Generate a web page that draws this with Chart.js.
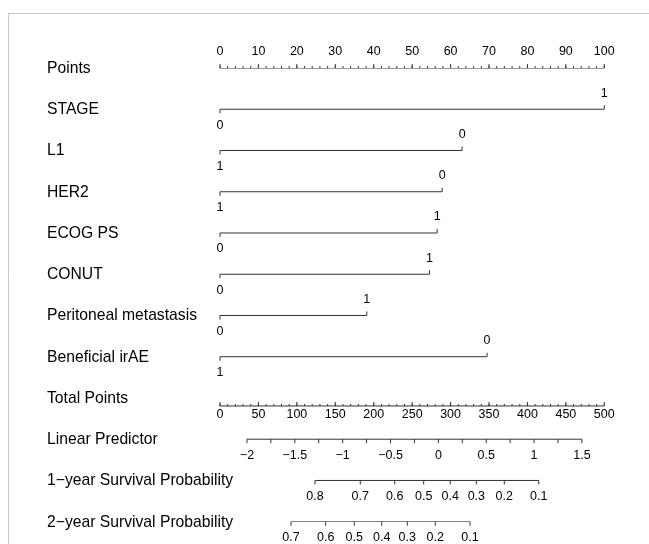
<!DOCTYPE html>
<html>
<head>
<meta charset="utf-8">
<script src="https://cdn.jsdelivr.net/npm/chart.js@4.4.1/dist/chart.umd.min.js"></script>
<style>
  html, body { margin: 0; padding: 0; background: #fff; }
  #wrap { position: relative; width: 649px; height: 544px; }
</style>
</head>
<body>
<div id="wrap"><canvas id="nomo" width="649" height="544"></canvas></div>
<script>
// Predictors and their levels (level at 0 points, level at the far end)
const categories = ['STAGE', 'L1', 'HER2', 'ECOG PS', 'CONUT', 'Peritoneal metastasis', 'Beneficial irAE'];
const lowLevels  = ['0', '1', '1', '0', '0', '0', '1'];
const highLevels = ['1', '0', '0', '1', '1', '1', '0'];
const highPoints = [100, 63.0, 57.8, 56.5, 54.5, 38.2, 69.5];

// Points scale
const pointTicks = [0, 10, 20, 30, 40, 50, 60, 70, 80, 90, 100];
const pointMinorStep = 2;

// Total points scale
const totalTicks = [0, 50, 100, 150, 200, 250, 300, 350, 400, 450, 500];
const totalMinorStep = 10;

// Linear predictor: total points = lpIntercept + lpSlope * lp
const lpIntercept = 284.1;
const lpSlope = 124.5;
const lpTicks = [-2, -1.75, -1.5, -1.25, -1, -0.75, -0.5, -0.25, 0, 0.25, 0.5, 0.75, 1, 1.25, 1.5];
const lpLabels = [-2, -1.5, -1, -0.5, 0, 0.5, 1, 1.5];

// Survival probabilities and where they fall on the total points scale
const surv1Labels = ['0.8', '0.7', '0.6', '0.5', '0.4', '0.3', '0.2', '0.1'];
const surv1Total  = [123.6, 182.5, 227.3, 265.0, 299.6, 333.5, 369.9, 414.7];
const surv2Labels = ['0.7', '0.6', '0.5', '0.4', '0.3', '0.2', '0.1'];
const surv2Total  = [92.4, 137.5, 174.7, 210.4, 243.7, 280.1, 325.3];

const rowNames = ['Points'].concat(categories, ['Total Points', 'Linear Predictor',
  '1\u2212year Survival Probability', '2\u2212year Survival Probability']);
const ROW_TOTAL = 8, ROW_LP = 9, ROW_S1 = 10, ROW_S2 = 11;
const ROW_GAP = 41.25;

const toPts = t => t / 5;                       // total points -> points axis
const lpToPts = lp => toPts(lpIntercept + lpSlope * lp);
const fmtMinus = v => String(v).replace('-', '\u2212');

const LINE = '#333333';
const seg = (x0, x1, row) => ({
  data: [{ x: x0, y: row }, { x: x1, y: row }],
  borderColor: LINE, borderWidth: 1, pointRadius: 0, fill: false, tension: 0
});

// Total points axis line sits a little below its row label
const TOTAL_SHIFT = 8;

const datasets = [];
datasets.push(seg(0, 100, 0));
categories.forEach((c, i) => datasets.push(seg(0, highPoints[i], i + 1)));
datasets.push(seg(toPts(totalTicks[0]), toPts(totalTicks[totalTicks.length - 1]), ROW_TOTAL + TOTAL_SHIFT / ROW_GAP));
datasets.push(seg(lpToPts(lpTicks[0]), lpToPts(lpTicks[lpTicks.length - 1]), ROW_LP));
datasets.push(seg(toPts(surv1Total[0]), toPts(surv1Total[surv1Total.length - 1]), ROW_S1));
datasets.push(seg(toPts(surv2Total[0]), toPts(surv2Total[surv2Total.length - 1]), ROW_S2));

const TICK_FONT = '12.5px "Liberation Sans", Arial, sans-serif';
const NAME_FONT = '15.7px "Liberation Sans", Arial, sans-serif';

const nomogramPlugin = {
  id: 'nomogram',
  afterDatasetsDraw(chart) {
    const { ctx, scales: { x, y } } = chart;
    const X = v => x.getPixelForValue(v);
    const Y = r => y.getPixelForValue(r);
    ctx.save();

    // frame
    ctx.strokeStyle = '#c8c8c8';
    ctx.lineWidth = 1;
    ctx.beginPath();
    ctx.moveTo(8.5, 544); ctx.lineTo(8.5, 13.5); ctx.lineTo(649, 13.5);
    ctx.stroke();

    const tick = (px, y0, y1) => { ctx.beginPath(); ctx.moveTo(px, y0); ctx.lineTo(px, y1); ctx.stroke(); };
    ctx.strokeStyle = LINE;
    ctx.fillStyle = '#000';
    ctx.textAlign = 'center';
    ctx.textBaseline = 'middle';
    ctx.font = TICK_FONT;

    // Points axis: ticks upward, labels above
    const yp = Y(0);
    for (let v = 0; v <= 100; v += pointMinorStep) tick(X(v), yp, yp - 2);
    pointTicks.forEach(v => { tick(X(v), yp, yp - 4); ctx.fillText(String(v), X(v), yp - 16.5); });

    // Predictor rows
    categories.forEach((c, i) => {
      const yr = Y(i + 1);
      tick(X(0), yr, yr + 4);
      ctx.fillText(lowLevels[i], X(0), yr + 16);
      tick(X(highPoints[i]), yr, yr - 4);
      ctx.fillText(highLevels[i], X(highPoints[i]), yr - 16);
    });

    // Total points axis
    const yt = Y(ROW_TOTAL + TOTAL_SHIFT / ROW_GAP);
    for (let v = totalTicks[0]; v <= totalTicks[totalTicks.length - 1]; v += totalMinorStep) tick(X(toPts(v)), yt, yt - 2);
    totalTicks.forEach(v => { tick(X(toPts(v)), yt, yt - 4); ctx.fillText(String(v), X(toPts(v)), yt + 8.5); });

    // Linear predictor axis
    const yl = Y(ROW_LP);
    lpTicks.forEach(v => tick(X(lpToPts(v)), yl, yl + 4));
    lpLabels.forEach(v => ctx.fillText(fmtMinus(v), X(lpToPts(v)), yl + 16));

    // Survival axes
    const y1 = Y(ROW_S1);
    surv1Total.forEach((t, i) => { tick(X(toPts(t)), y1, y1 + 4); ctx.fillText(surv1Labels[i], X(toPts(t)), y1 + 16); });
    const y2 = Y(ROW_S2);
    surv2Total.forEach((t, i) => { tick(X(toPts(t)), y2, y2 + 4); ctx.fillText(surv2Labels[i], X(toPts(t)), y2 + 16); });

    // Row names
    ctx.textAlign = 'left';
    ctx.font = NAME_FONT;
    rowNames.forEach((n, r) => ctx.fillText(n, 47, Y(r) + 0.5));
    ctx.restore();
  }
};

new Chart(document.getElementById('nomo'), {
  type: 'line',
  data: { datasets },
  options: {
    responsive: false,
    animation: false,
    devicePixelRatio: 1,
    layout: { padding: { left: 220, right: 44.7, top: 68, bottom: 22.3 } },
    plugins: { legend: { display: false }, tooltip: { enabled: false } },
    scales: {
      x: { type: 'linear', min: 0, max: 100, display: false },
      y: { type: 'linear', min: 0, max: 11, reverse: true, display: false }
    }
  },
  plugins: [nomogramPlugin]
});
</script>
</body>
</html>
